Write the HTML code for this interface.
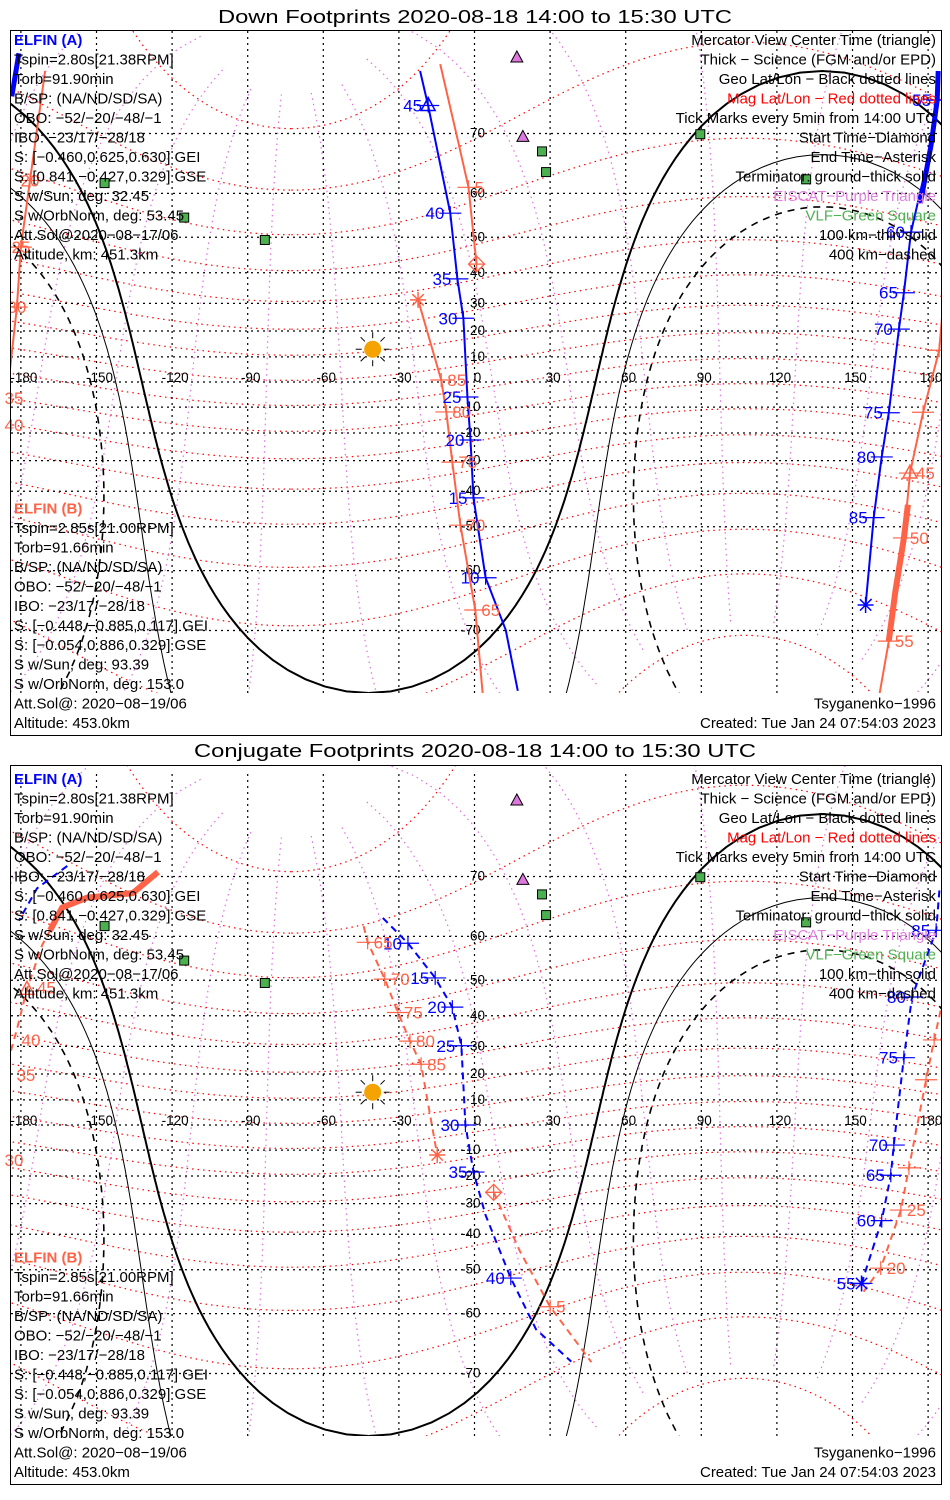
<!DOCTYPE html>
<html><head><meta charset="utf-8"><title>ELFIN Footprints</title>
<style>
html,body{margin:0;padding:0;background:#fff;width:950px;height:1500px;overflow:hidden;}
svg{display:block;}
text{font-family:"Liberation Sans",sans-serif;}
</style></head>
<body>
<svg id="chart" width="950" height="1500" viewBox="0 0 950 1500" xmlns="http://www.w3.org/2000/svg" overflow="hidden">
<rect x="0" y="0" width="950" height="1500" fill="#fff"/>
<defs>
<clipPath id="clipTop"><rect x="11" y="31" width="930" height="662"/></clipPath>
<clipPath id="clipBot"><rect x="11" y="766" width="930" height="670"/></clipPath>
</defs>
<text x="475" y="23" font-size="18" text-anchor="middle" textLength="514" lengthAdjust="spacingAndGlyphs">Down Footprints 2020-08-18 14:00 to 15:30 UTC</text>
<text x="475" y="757" font-size="18" text-anchor="middle" textLength="562" lengthAdjust="spacingAndGlyphs">Conjugate Footprints 2020-08-18 14:00 to 15:30 UTC</text>
<g id="mapTop" clip-path="url(#clipTop)"></g>
<g id="mapBot" clip-path="url(#clipBot)"></g>
<g id="overTop"></g>
<g id="overBot"></g>
<rect x="10.5" y="30.5" width="931" height="705" fill="none" stroke="#000" stroke-width="1"/>
<rect x="10.5" y="765.5" width="931" height="719" fill="none" stroke="#000" stroke-width="1"/>
</svg>
<script>
// ---------- data ----------
const latGrid=[-70,-60,-50,-40,-30,-20,-10,0,10,20,30,40,50,60,70];
const lonGrid=[-180,-150,-120,-90,-60,-30,0,30,60,90,120,150,180];
const magLats=[-80,-70,-60,-50,-40,-30,-20,-10,0,10,20,30,40,50,60,70,80];
const magLons=[20,50,80,110,140,170,200,230,260,290,320,350];
const dipolePole=[80.65,-72.68];
const antiSolar=[-13,138];
const termRadii=[90,79.9,70.2];
const sunPos=[-40.4,13];
const eiscatLon=[16.8,19.2], eiscatLat=[78.2,69.6];
const vlfLon=[26.8,28.4,-146.8,-115.2,-83.2,89.6,131.6];
const vlfLat=[67.4,64.0,62.0,54.8,49.3,69.9,62.7];

// top panel tracks
const tA1Lon=[-21.6,-18.4,-9.6,-6.8,-4.4,-2.8,-1.6,-0.4,4.4,12.4,17.2];
const tA1Lat=[77,73.5,55.8,38.1,24.7,-6,-22.6,-42,-61.4,-69.9,-76.8];
const tA1TickIdx=[1,2,3,4,5,6,7,8];
const tA1TickLab=['45','40','35','30','25','20','15','10'];
const tA2Lon=[184,183.6,181.2,173.2,170.4,168.4,164.4,161.6,158.4,155.2];
const tA2Lat=[77,74.1,68.4,51.3,33.6,20.7,-12.2,-28.7,-47.6,-66.2];
const tA2TickIdx=[1,3,4,5,6,7,8];
const tA2TickLab=['55','60','65','70','75','80','85'];
const tA2ThickLon=[184,183.6,181.2,177];
const tA2ThickLat=[77,74.1,68.4,58];
const tA3Lon=[-180.8,-183.6];
const tA3Lat=[78.5,74.5];
const tB1Lon=[-13.6,-6.4,-2.4,0.8];
const tB1Lat=[77.6,68.7,61.2,42.6];
const tB1TickIdx=[2];
const tB1TickLab=['5'];
const tB2Lon=[-170.4,-176.4,-180,-181.6,-185.6];
const tB2Lat=[77,62.5,47.4,28.7,-6.4];
const tB2TickIdx=[1,2,3];
const tB2TickLab=['20','25','30'];
const tB2ExtraLon=[-184.8,-185.6];
const tB2ExtraLat=[-6.4,-16.9];
const tB2ExtraLab=['35','40'];
const tB3Lon=[186.8,184.4,178,172.8,170.4,164.4,160.8];
const tB3Lat=[37.8,12.6,-12,-34.2,-52.8,-71.4,-77];
const tB3TickIdx=[1,2,3,4,5];
const tB3TickLab=['','','45','50','55'];
const tB3ThickLon=[172,170.4,167,164.4];
const tB3ThickLat=[-44,-52.8,-64,-71.4];
const tB4Lon=[-22.4,-13.2,-11.2,-8.8,-5.6,0.3,3.2];
const tB4Lat=[31.2,0.8,-11.9,-30.5,-49.6,-67,-77];
const tB4TickIdx=[1,2,3,4,5];
const tB4TickLab=['85','80','75','70','65'];

// bottom panel tracks (conjugate)
const cA1Lon=[-36.4,-26.4,-15.6,-8.8,-5.2,-3.6,-0.4,4.4,14.4,24.4,38.4];
const cA1Lat=[63.5,58.6,50.6,42.6,30.2,0,-18.5,-33.9,-52.1,-63,-68.3];
const cA1TickIdx=[1,2,3,4,5,6,8];
const cA1TickLab=['10','15','20','25','30','35','40'];
const cA2Lon=[-161.6,-173.6,-180.8];
const cA2Lat=[71.4,68.3,63];
const cA3Lon=[184.5,183.2,173.6,170.4,168.4,166.4,165.2,161.6,153.6];
const cA3Lat=[68,61.2,45.5,26,9.9,-8,-19.7,-35.7,-53.4];
const cA3TickIdx=[1,2,3,5,6,7,8];
const cA3TickLab=['85','80','75','70','65','60','55'];
const cB1Lon=[-44,-42.4,-35.6,-30.4,-25.6,-21.2,-14.8];
const cB1Lat=[62,58.8,50.3,41,31.8,23.6,-11.9];
const cB1TickIdx=[1,2,3,4,5];
const cB1TickLab=['65','70','75','80','85'];
const cB2Lon=[7.6,18,30,46.4];
const cB2Lat=[-26,-45,-58.6,-68.4];
const cB2TickIdx=[2];
const cB2TickLab=['5'];
const cB3Lon=[-125.6,-135.6,-153.6,-163.6,-168.4];
const cB3Lat=[70.6,67.6,66.9,65.3,61.2];
const cB4Lon=[-168.4,-171.6,-177.6,-181.6,-185];
const cB4Lat=[61.2,58.2,47.6,35.7,25];
const cB4TickIdx=[2];
const cB4TickLab=['45'];
const cB4ExtraLon=[-176,-178,-186.4];
const cB4ExtraLat=[32.2,19.7,-13.8];
const cB4ExtraLab=['40','35','30'];
const cB5Lon=[186,182.4,179.2,172.4,169.2,161.2,154.4];
const cB5Lat=[45,32.2,17.8,-16.9,-32.2,-49.6,-55.3];
const cB5TickIdx=[1,2,3,4,5];
const cB5TickLab=['','','','25','20'];

// ---------- helpers ----------
const NS='http://www.w3.org/2000/svg';
const D=Math.PI/180;
const BLUE='#0000ff', RED='#ff6347';
const FS=15;
function X(lon){return 474.5+2.52*lon;}
function Y(lat,off){const l=Math.max(-78.5,Math.min(86,lat));return off+382-143.2*Math.log(Math.tan(Math.PI/4+l*D/2));}
function el(tag,attrs,parent){const e=document.createElementNS(NS,tag);for(const k in attrs)e.setAttribute(k,attrs[k]);parent.appendChild(e);return e;}
function rot(lat,lon,cLat,cLon){
  const t=(90-cLat)*D,p=cLon*D;
  const x=Math.cos(lat*D)*Math.cos(lon*D),y=Math.cos(lat*D)*Math.sin(lon*D),z=Math.sin(lat*D);
  const x1=x*Math.cos(t)+z*Math.sin(t),z1=-x*Math.sin(t)+z*Math.cos(t),y1=y;
  const x2=x1*Math.cos(p)-y1*Math.sin(p),y2=x1*Math.sin(p)+y1*Math.cos(p);
  return [Math.asin(Math.max(-1,Math.min(1,z1)))/D,Math.atan2(y2,x2)/D];
}
function unwrap(pts){let prev=null,shift=0;return pts.map(([la,lo])=>{if(prev!==null){let d=lo+shift-prev;if(d>180)shift-=360;else if(d<-180)shift+=360;}const L=lo+shift;prev=L;return [la,L];});}
function pathFrom(pts,off,s){return pts.map((q,i)=>(i?'L':'M')+X(q[1]+s).toFixed(1)+' '+Y(q[0],off).toFixed(1)).join(' ');}
function drawWrapped(g,pts,off,style,name){
  [-720,-360,0,360,720].forEach(s=>{
    const p=el('path',Object.assign({d:pathFrom(pts,off,s),fill:'none'},style),g);
    
    
  });
}
function txt(g,x,y,s,attrs){const t=el('text',Object.assign({x:x,y:y,'font-size':13},attrs||{}),g);t.textContent=s;return t;}

function drawMapBase(g,off){
  magLats.forEach(m=>{
    const pts=[];for(let a=0;a<=360;a+=3)pts.push(rot(m,a,dipolePole[0],dipolePole[1]));
    drawWrapped(g,unwrap(pts),off,{stroke:'#ff0000','stroke-width':1.2,'stroke-dasharray':'1.5 4'},'mag-lat-line');
  });
  magLons.forEach(m=>{
    const pts=[];for(let a=-78;a<=84;a+=2)pts.push(rot(a,m,dipolePole[0],dipolePole[1]));
    drawWrapped(g,unwrap(pts),off,{stroke:'#e070e0','stroke-width':1.2,'stroke-dasharray':'1.5 4'},'mag-lon-line');
  });
  latGrid.forEach(l=>{
    const ln=el('line',{x1:11,x2:941,y1:Y(l,off),y2:Y(l,off),stroke:'#000','stroke-width':1.2,'stroke-dasharray':'2 4'},g);
    
    
  });
  lonGrid.forEach(l=>{
    const ln=el('line',{x1:X(l),x2:X(l),y1:off+31,y2:off+700,stroke:'#000','stroke-width':1.2,'stroke-dasharray':'2 4'},g);
    
    
  });
  const styles=[{stroke:'#000','stroke-width':2},{stroke:'#000','stroke-width':1},{stroke:'#000','stroke-width':1.6,'stroke-dasharray':'7 6'}];
  const names=['terminator-ground','terminator-100km','terminator-400km'];
  termRadii.forEach((r,i)=>{
    const pts=[];for(let a=0;a<=360;a+=2)pts.push(rot(90-r,a,antiSolar[0],antiSolar[1]));
    drawWrapped(g,unwrap(pts),off,styles[i],names[i]);
  });
  latGrid.forEach(l=>{if(l===0)return;
    const t=txt(g,l<0?461:470,Y(l,off)+4,String(l),{'font-size':13.5});
    
    
  });
  lonGrid.forEach(l=>{
    const t=txt(g,X(l)+3,off+382,String(l),{'font-size':13.5,'text-anchor':'middle'});
    
    
  });
  const sx=X(sunPos[0]),sy=Y(sunPos[1],off);
  for(let a=0;a<360;a+=45){const c=Math.cos(a*D),s=Math.sin(a*D);
    const r=el('line',{x1:sx+11*c,y1:sy+11*s,x2:sx+17*c,y2:sy+17*s,stroke:'#000','stroke-width':1},g);
    
    }
  const sc=el('circle',{cx:sx,cy:sy,r:8.5,fill:'#f5a300'},g);
  
  
  eiscatLon.forEach((lo,i)=>{const x=X(lo),y=Y(eiscatLat[i],off);
    const p=el('polygon',{points:`${x},${y-6} ${x-6},${y+5} ${x+6},${y+5}`,fill:'#dd77dd',stroke:'#000','stroke-width':1},g);
    
    });
  vlfLon.forEach((lo,i)=>{const x=X(lo),y=Y(vlfLat[i],off);
    const r=el('rect',{x:x-4.5,y:y-4.5,width:9,height:9,fill:'#4cb050',stroke:'#000','stroke-width':1},g);
    
    });
}

function track(g,off,lon,lat,color,width,dash,name){
  const pts=lon.map((lo,i)=>[lat[i],lo]);
  const attrs={d:pathFrom(pts,off,0),fill:'none',stroke:color,'stroke-width':width,'stroke-linejoin':'round'};
  if(dash)attrs['stroke-dasharray']=dash;
  const p=el('path',attrs,g);
  
  
}
function ticks(g,off,lon,lat,idx,labs,color,side){
  idx.forEach((k,j)=>{const x=X(lon[k]),y=Y(lat[k],off);
    const h=el('path',{d:`M${x-11} ${y} L${x+11} ${y} M${x} ${y-7} L${x} ${y+7}`,stroke:color,'stroke-width':1.2,fill:'none'},g);
    
    
    if(labs[j]){const a=side==='L'?{'text-anchor':'end',x:x-6}:side==='R'?{'text-anchor':'start',x:x+6}:{'text-anchor':'middle',x:x};
      const t=txt(g,a.x,y+6,labs[j],{'font-size':17,fill:color,'text-anchor':a['text-anchor']});
      
      }
  });
}
function extraLabels(g,off,lon,lat,labs,color){
  lon.forEach((lo,i)=>{const t=txt(g,Math.max(14,X(lo)),Y(lat[i],off)+6,labs[i],{'font-size':17,fill:color,'text-anchor':'middle'});
    
    });
}
function marker(g,off,lo,la,type,color){
  const x=X(lo),y=Y(la,off);let e;
  if(type==='tri')e=el('polygon',{points:`${x},${y-8} ${x-7},${y+5} ${x+7},${y+5}`,fill:'none',stroke:color,'stroke-width':1.5},g);
  else if(type==='ast'){let d='';for(let a=0;a<180;a+=45){const c=8*Math.cos(a*D),s=8*Math.sin(a*D);d+=`M${x-c} ${y-s} L${x+c} ${y+s} `;}
    e=el('path',{d:d,stroke:color,'stroke-width':1.5,fill:'none'},g);}
  else e=el('path',{d:`M${x} ${y-8} L${x+8} ${y} L${x} ${y+8} L${x-8} ${y} Z M${x-8} ${y} L${x+8} ${y} M${x} ${y-8} L${x} ${y+8}`,stroke:color,'stroke-width':1.3,fill:'none'},g);
  
  
}

function textBlocks(g,top,bot){
  const A=['ELFIN (A)','Tspin=2.80s[21.38RPM]','Torb=91.90min','B/SP: (NA/ND/SD/SA)','OBO: \u221252/\u221220/\u221248/\u22121','IBO: \u221223/17/\u221228/18','S: [\u22120.460,0.625,0.630] GEI','S: [0.841,\u22120.427,0.329] GSE','S w/Sun, deg: 32.45','S w/OrbNorm, deg: 53.45','Att.Sol@2020\u221208\u221217/06','Altitude, km: 451.3km'];
  const B=['ELFIN (B)','Tspin=2.85s[21.00RPM]','Torb=91.66min','B/SP: (NA/ND/SD/SA)','OBO: \u221252/\u221220/\u221248/\u22121','IBO: \u221223/17/\u221228/18','S: [\u22120.448,\u22120.885,0.117] GEI','S: [\u22120.054,0.886,0.329] GSE','S w/Sun, deg: 93.39','S w/OrbNorm, deg: 153.0','Att.Sol@: 2020\u221208\u221219/06','Altitude: 453.0km'];
  const R=['Mercator View Center Time (triangle)','Thick \u2212 Science (FGM and/or EPD)','Geo Lat/Lon \u2212 Black dotted lines','Mag Lat/Lon \u2212 Red dotted lines','Tick Marks every 5min from 14:00 UTC','Start Time\u2212Diamond','End Time\u2212Asterisk','Terminator: ground\u2212thick solid','EISCAT\u2212Purple Triangle','VLF\u2212Green Square','100 km\u2212thin solid','400 km\u2212dashed'];
  const rc=['#000','#000','#000','#ff0000','#000','#000','#000','#000','#e080e0','#50b050','#000','#000'];
  A.forEach((s,i)=>{const t=txt(g,14,top+i*19.5+5,s,{'font-size':FS,fill:i===0?BLUE:'#000','font-weight':i===0?'bold':'normal'});
    
    });
  B.forEach((s,i)=>{const t=txt(g,14,bot-11*19.5+i*19.5+5,s,{'font-size':FS,fill:i===0?RED:'#000','font-weight':i===0?'bold':'normal'});
    
    });
  R.forEach((s,i)=>{const t=txt(g,936,top+i*19.5+5,s,{'font-size':FS,fill:rc[i],'text-anchor':'end'});
    
    });
  const t1=txt(g,936,bot-19.5+5,'Tsyganenko\u22121996',{'font-size':FS,'text-anchor':'end'});
  
  
  const t2=txt(g,936,bot+5,'Created: Tue Jan 24 07:54:03 2023',{'font-size':FS,'text-anchor':'end'});
  
  
}

// ---------- top panel ----------
(function(){
  const g=document.getElementById('mapTop'),off=0;
  drawMapBase(g,off);
  track(g,off,tA1Lon,tA1Lat,BLUE,2,null,'elfin-a-track');
  track(g,off,tA2Lon,tA2Lat,BLUE,2,null,'elfin-a-track');
  track(g,off,tA2ThickLon,tA2ThickLat,BLUE,5,null,'elfin-a-science');
  track(g,off,tA3Lon,tA3Lat,BLUE,5,null,'elfin-a-science');
  track(g,off,tB1Lon,tB1Lat,RED,2,null,'elfin-b-track');
  track(g,off,tB2Lon,tB2Lat,RED,2,null,'elfin-b-track');
  track(g,off,tB3Lon,tB3Lat,RED,2,null,'elfin-b-track');
  track(g,off,tB3ThickLon,tB3ThickLat,RED,6,null,'elfin-b-science');
  track(g,off,tB4Lon,tB4Lat,RED,2,null,'elfin-b-track');
  ticks(g,off,tA1Lon,tA1Lat,tA1TickIdx,tA1TickLab,BLUE,'L');
  ticks(g,off,tA2Lon,tA2Lat,tA2TickIdx,tA2TickLab,BLUE,'L');
  ticks(g,off,tB1Lon,tB1Lat,tB1TickIdx,tB1TickLab,RED,'R');
  ticks(g,off,tB2Lon,tB2Lat,tB2TickIdx,tB2TickLab,RED,'C');
  ticks(g,off,tB3Lon,tB3Lat,tB3TickIdx,tB3TickLab,RED,'R');
  ticks(g,off,tB4Lon,tB4Lat,tB4TickIdx,tB4TickLab,RED,'R');
  marker(g,off,tA1Lon[1],tA1Lat[1],'tri',BLUE);
  marker(g,off,tA2Lon[9],tA2Lat[9],'ast',BLUE);
  marker(g,off,tB1Lon[3],tB1Lat[3],'dia',RED);
  marker(g,off,tB3Lon[3],tB3Lat[3],'tri',RED);
  marker(g,off,tB4Lon[0],tB4Lat[0],'ast',RED);
  extraLabels(document.getElementById('overTop'),off,tB2ExtraLon,tB2ExtraLat,tB2ExtraLab,RED);
  textBlocks(document.getElementById('overTop'),40,723);
})();

// ---------- bottom panel ----------
(function(){
  const g=document.getElementById('mapBot'),off=743;
  drawMapBase(g,off);
  const dash='7 5';
  track(g,off,cA1Lon,cA1Lat,BLUE,2,dash,'elfin-a-conjugate-track');
  track(g,off,cA2Lon,cA2Lat,BLUE,2,dash,'elfin-a-conjugate-track');
  track(g,off,cA3Lon,cA3Lat,BLUE,2,dash,'elfin-a-conjugate-track');
  track(g,off,cB1Lon,cB1Lat,RED,2,dash,'elfin-b-conjugate-track');
  track(g,off,cB2Lon,cB2Lat,RED,2,dash,'elfin-b-conjugate-track');
  track(g,off,cB3Lon,cB3Lat,RED,6,null,'elfin-b-conjugate-science');
  track(g,off,cB4Lon,cB4Lat,RED,2,dash,'elfin-b-conjugate-track');
  track(g,off,cB5Lon,cB5Lat,RED,2,dash,'elfin-b-conjugate-track');
  ticks(g,off,cA1Lon,cA1Lat,cA1TickIdx,cA1TickLab,BLUE,'L');
  ticks(g,off,cA3Lon,cA3Lat,cA3TickIdx,cA3TickLab,BLUE,'L');
  ticks(g,off,cB1Lon,cB1Lat,cB1TickIdx,cB1TickLab,RED,'R');
  ticks(g,off,cB2Lon,cB2Lat,cB2TickIdx,cB2TickLab,RED,'R');
  ticks(g,off,cB5Lon,cB5Lat,cB5TickIdx,cB5TickLab,RED,'R');
  marker(g,off,cA3Lon[8],cA3Lat[8],'ast',BLUE);
  marker(g,off,cB1Lon[6],cB1Lat[6],'ast',RED);
  marker(g,off,cB2Lon[0],cB2Lat[0],'dia',RED);
  marker(g,off,cB4Lon[2],cB4Lat[2],'tri',RED);
  const o=document.getElementById('overBot');
  const t=txt(o,X(cB4Lon[2])+10,Y(cB4Lat[2],off)+4,cB4TickLab[0],{'font-size':17,fill:RED});
  
  
  extraLabels(o,off,cB4ExtraLon,cB4ExtraLat,cB4ExtraLab,RED);
  textBlocks(o,779,1472);
})();
</script>
</body></html>
